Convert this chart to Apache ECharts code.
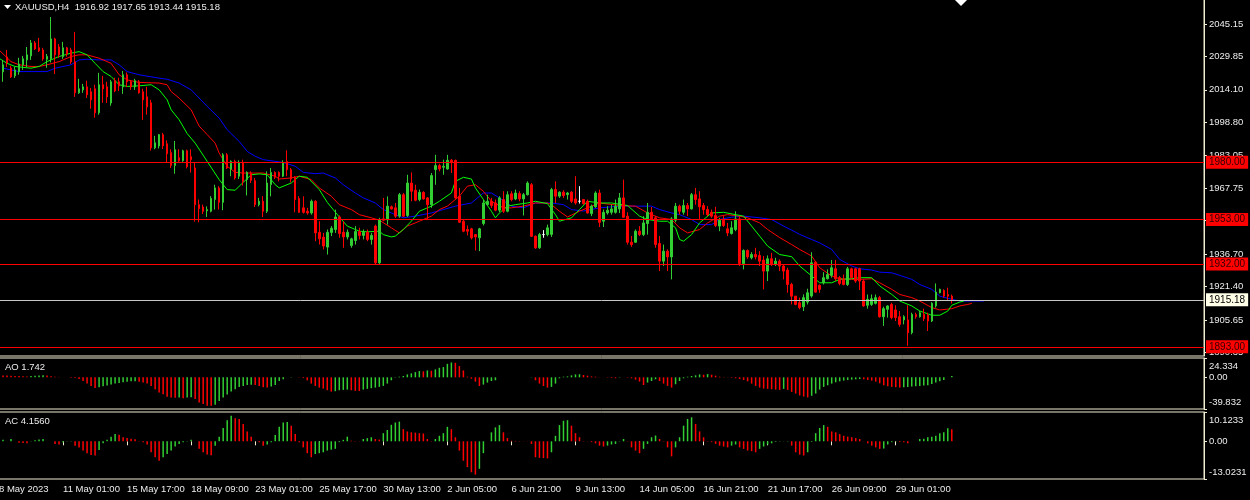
<!DOCTYPE html>
<html>
<head>
<meta charset="utf-8">
<script src="https://cdn.jsdelivr.net/npm/echarts@6/dist/echarts.min.js"></script>
<style>
  html, body { margin: 0; padding: 0; background: #000; }
  #chart { width: 1250px; height: 500px; }
</style>
</head>
<body>
<div id="chart"></div>
<script>
// XAUUSD H4, 8 May - 30 Jun 2023
const timeLabels = ['8 May 2023', '11 May 01:00', '15 May 17:00', '18 May 09:00', '23 May 01:00', '25 May 17:00',
  '30 May 13:00', '2 Jun 05:00', '6 Jun 21:00', '9 Jun 13:00', '14 Jun 05:00', '16 Jun 21:00',
  '21 Jun 17:00', '26 Jun 09:00', '29 Jun 01:00'];
const slotCount = 302; // bar slots across the visible window

const opens = [
  2021.2, 2022.6, 2029.6, 2024.4, 2020.7, 2022.6, 2025.9, 2028.2, 2030.1, 2036.2,
  2033.9, 2032.9, 2028.5, 2028.7, 2038.1, 2034.3, 2029.7, 2033.9, 2032.9, 2027.3,
  2012.7, 2014.1, 2015.5, 2013.2, 2014.6, 2003.3, 2016.5, 2015.5, 2007.9, 2018.4,
  2017.9, 2015.5, 2021.2, 2017.9, 2015.5, 2017.9, 2013.2, 2010.8, 2008.0, 1986.8,
  1987.7, 1992.9, 1988.7, 1984.5, 1978.5, 1982.1, 1980.7, 1985.4, 1982.6, 1977.3,
  1960.0, 1958.9, 1957.1, 1956.9, 1962.4, 1967.9, 1961.1, 1983.5, 1976.8, 1980.4,
  1973.4, 1979.9, 1971.8, 1974.9, 1971.3, 1960.0, 1961.6, 1956.9, 1969.5, 1975.2,
  1975.2, 1973.4, 1980.3, 1976.5, 1972.9, 1962.9, 1958.5, 1956.9, 1956.1, 1961.6,
  1947.0, 1944.7, 1940.0, 1946.9, 1948.3, 1954.2, 1947.0, 1944.8, 1940.8, 1943.1,
  1947.4, 1945.5, 1947.0, 1943.6, 1949.9, 1932.6, 1953.3, 1952.9, 1959.0, 1958.5,
  1954.6, 1964.7, 1954.9, 1970.2, 1966.8, 1962.4, 1965.8, 1963.2, 1960.0, 1976.5,
  1978.4, 1977.6, 1976.8, 1980.9, 1980.9, 1964.0, 1952.2, 1948.3, 1948.6, 1945.9,
  1944.4, 1951.1, 1960.0, 1961.6, 1960.8, 1957.4, 1962.4, 1956.9, 1965.1, 1962.7,
  1965.2, 1962.7, 1964.7, 1969.4, 1945.1, 1939.7, 1945.9, 1945.9, 1946.0, 1967.1,
  1964.0, 1965.9, 1964.7, 1965.9, 1962.7, 1961.6, 1962.4, 1961.6, 1955.8, 1959.0,
  1965.5, 1952.2, 1956.1, 1956.4, 1956.4, 1958.0, 1963.2, 1954.6, 1942.3, 1942.3,
  1947.5, 1945.9, 1951.1, 1956.4, 1953.8, 1941.7, 1933.4, 1938.1, 1935.4, 1952.7,
  1959.3, 1956.4, 1959.6, 1958.0, 1964.7, 1962.7, 1959.6, 1957.7, 1956.4, 1954.9,
  1949.9, 1952.7, 1948.6, 1946.4, 1948.3, 1953.3, 1932.2, 1938.4, 1935.0, 1936.5,
  1936.1, 1933.9, 1928.7, 1934.5, 1931.8, 1933.4, 1931.1, 1929.2, 1922.4, 1916.9,
  1913.8, 1911.9, 1914.1, 1917.0, 1932.9, 1922.0, 1923.2, 1925.1, 1926.7, 1929.8,
  1925.6, 1924.8, 1922.4, 1929.8, 1929.8, 1929.8, 1924.0, 1912.6, 1913.0, 1913.5,
  1916.2, 1907.2, 1910.7, 1913.0, 1910.4, 1907.2, 1905.7, 1905.7, 1899.7, 1908.3,
  1907.2, 1908.3, 1907.9, 1905.2, 1912.3, 1918.5, 1919.6, 1917.7, 1916.92
];
const highs = [
  2026.3, 2028.2, 2032.9, 2025.4, 2024.9, 2029.2, 2030.1, 2034.3, 2037.6, 2037.1,
  2038.6, 2033.9, 2031.0, 2048.4, 2038.6, 2035.7, 2036.7, 2034.3, 2033.9, 2041.4,
  2019.3, 2016.9, 2018.4, 2015.0, 2016.5, 2022.1, 2020.7, 2017.9, 2018.8, 2019.8,
  2019.8, 2023.0, 2022.3, 2018.7, 2019.3, 2018.7, 2014.6, 2015.5, 2009.4, 1992.4,
  1993.3, 1993.8, 1990.3, 1986.1, 1990.0, 1986.1, 1985.9, 1985.9, 1986.1, 1979.6,
  1962.4, 1960.0, 1959.2, 1964.0, 1969.4, 1968.7, 1984.3, 1984.3, 1980.9, 1981.2,
  1980.9, 1981.2, 1975.7, 1975.7, 1972.6, 1963.2, 1964.0, 1975.7, 1977.3, 1975.7,
  1975.7, 1980.9, 1985.6, 1977.3, 1973.4, 1964.0, 1963.9, 1958.5, 1962.4, 1962.1,
  1952.2, 1946.7, 1948.3, 1949.9, 1957.7, 1954.9, 1952.2, 1948.3, 1944.4, 1949.9,
  1949.1, 1948.3, 1948.3, 1946.7, 1950.6, 1953.8, 1963.2, 1963.9, 1959.6, 1960.8,
  1965.5, 1965.5, 1974.1, 1975.2, 1969.4, 1967.1, 1966.3, 1963.6, 1974.9, 1983.5,
  1979.3, 1981.2, 1983.5, 1981.5, 1981.2, 1967.9, 1953.0, 1950.2, 1949.1, 1946.2,
  1949.1, 1962.4, 1964.7, 1963.2, 1962.4, 1964.0, 1966.3, 1966.3, 1966.3, 1967.1,
  1966.3, 1965.5, 1971.0, 1970.2, 1945.5, 1946.7, 1948.0, 1950.6, 1967.9, 1971.0,
  1966.3, 1966.8, 1966.0, 1966.3, 1973.4, 1968.7, 1962.7, 1962.4, 1960.0, 1966.3,
  1967.1, 1957.7, 1959.3, 1960.0, 1962.4, 1965.5, 1971.8, 1956.4, 1945.2, 1948.3,
  1949.9, 1954.6, 1960.8, 1958.9, 1954.6, 1945.2, 1941.2, 1938.9, 1954.1, 1960.8,
  1960.0, 1962.4, 1960.8, 1965.5, 1967.9, 1966.3, 1960.8, 1959.3, 1957.7, 1959.0,
  1953.8, 1954.6, 1951.4, 1952.2, 1956.9, 1954.6, 1938.9, 1938.9, 1937.6, 1939.7,
  1938.1, 1935.8, 1936.1, 1937.3, 1935.0, 1934.2, 1931.8, 1930.3, 1923.2, 1917.0,
  1916.2, 1917.7, 1920.4, 1937.6, 1933.4, 1922.4, 1928.2, 1929.5, 1933.9, 1933.9,
  1926.4, 1927.1, 1930.7, 1930.3, 1930.3, 1930.3, 1924.8, 1917.7, 1917.7, 1917.7,
  1917.0, 1911.9, 1912.6, 1913.8, 1912.6, 1909.9, 1907.9, 1912.6, 1909.1, 1909.1,
  1909.9, 1911.0, 1909.1, 1914.1, 1922.9, 1920.4, 1920.1, 1920.9, 1917.65
];
const lows = [
  2019.3, 2017.9, 2024.9, 2019.7, 2019.7, 2021.2, 2023.5, 2024.9, 2028.2, 2032.9,
  2031.9, 2027.8, 2024.5, 2027.0, 2021.6, 2029.2, 2028.7, 2029.7, 2026.3, 2010.8,
  2012.2, 2012.7, 2010.3, 2005.2, 2001.0, 2002.4, 2008.0, 2007.9, 2006.6, 2013.0,
  2013.5, 2012.2, 2015.4, 2014.1, 2014.1, 2012.3, 2000.0, 2002.4, 1985.5, 1986.1,
  1986.5, 1986.2, 1979.7, 1977.3, 1974.6, 1980.2, 1980.2, 1977.1, 1975.1, 1952.0,
  1951.7, 1955.6, 1954.2, 1956.4, 1957.7, 1957.7, 1957.4, 1976.8, 1973.4, 1971.8,
  1972.1, 1969.0, 1964.3, 1970.2, 1958.9, 1959.2, 1954.2, 1956.1, 1963.9, 1972.1,
  1971.0, 1973.0, 1973.4, 1970.5, 1956.4, 1956.1, 1955.8, 1955.3, 1955.3, 1942.8,
  1941.2, 1938.9, 1936.5, 1945.2, 1946.7, 1944.4, 1939.7, 1943.6, 1939.7, 1941.2,
  1943.6, 1943.6, 1942.8, 1941.2, 1932.0, 1932.0, 1952.2, 1950.6, 1957.7, 1953.8,
  1953.8, 1954.2, 1954.2, 1961.6, 1961.6, 1961.6, 1962.4, 1953.0, 1958.5, 1969.4,
  1975.7, 1974.1, 1976.5, 1974.9, 1962.8, 1951.4, 1947.0, 1945.5, 1943.6, 1938.4,
  1938.1, 1950.2, 1959.6, 1958.5, 1956.9, 1956.4, 1956.1, 1956.4, 1961.6, 1962.1,
  1961.6, 1954.9, 1964.3, 1944.8, 1939.2, 1939.2, 1944.4, 1945.1, 1944.8, 1960.8,
  1963.2, 1963.2, 1962.4, 1960.8, 1960.0, 1960.5, 1960.0, 1955.8, 1954.6, 1958.5,
  1949.5, 1949.5, 1955.3, 1955.3, 1955.8, 1956.1, 1953.8, 1941.2, 1940.1, 1942.0,
  1945.2, 1945.2, 1945.9, 1953.0, 1939.7, 1928.7, 1931.1, 1928.7, 1924.8, 1951.7,
  1955.3, 1955.3, 1954.6, 1957.7, 1960.0, 1953.3, 1955.3, 1954.6, 1953.8, 1949.5,
  1947.5, 1949.5, 1945.2, 1945.9, 1947.5, 1931.1, 1929.5, 1934.5, 1934.2, 1934.2,
  1931.1, 1920.1, 1924.0, 1931.1, 1931.1, 1928.7, 1924.8, 1918.5, 1913.0, 1912.6,
  1910.7, 1909.9, 1913.0, 1916.2, 1918.5, 1918.5, 1922.4, 1924.8, 1925.6, 1924.0,
  1922.0, 1922.0, 1921.7, 1925.1, 1923.2, 1919.8, 1911.9, 1911.0, 1912.3, 1913.0,
  1906.8, 1902.9, 1906.8, 1906.0, 1905.2, 1902.5, 1903.6, 1893.5, 1898.9, 1906.3,
  1906.8, 1905.2, 1900.5, 1904.7, 1911.5, 1918.2, 1916.2, 1914.6, 1913.44
];
const closes = [
  2024.9, 2025.9, 2026.8, 2020.2, 2023.5, 2026.3, 2028.7, 2030.6, 2036.2, 2033.4,
  2032.5, 2028.7, 2029.9, 2038.1, 2030.6, 2030.6, 2033.9, 2031.0, 2027.3, 2012.7,
  2014.6, 2015.5, 2011.8, 2009.4, 2003.3, 2016.5, 2014.6, 2010.8, 2017.9, 2013.6,
  2016.0, 2021.2, 2017.9, 2015.5, 2018.4, 2012.7, 2009.4, 2006.1, 1986.8, 1989.2,
  1993.0, 1987.8, 1984.0, 1978.5, 1985.9, 1980.7, 1985.4, 1977.9, 1981.2, 1960.0,
  1958.2, 1956.9, 1957.7, 1962.9, 1967.9, 1961.1, 1983.5, 1977.3, 1980.4, 1972.6,
  1979.9, 1971.0, 1975.2, 1971.5, 1960.0, 1961.6, 1956.9, 1970.2, 1975.2, 1972.9,
  1973.4, 1979.9, 1976.5, 1972.1, 1962.4, 1956.4, 1956.4, 1956.1, 1961.6, 1946.7,
  1943.9, 1940.5, 1947.0, 1948.9, 1954.2, 1946.4, 1944.8, 1947.0, 1943.9, 1947.4,
  1945.5, 1947.0, 1943.6, 1945.5, 1932.6, 1953.0, 1952.7, 1959.3, 1958.0, 1954.6,
  1964.7, 1954.6, 1970.2, 1966.3, 1962.1, 1965.8, 1962.7, 1960.0, 1973.7, 1978.4,
  1976.8, 1978.1, 1980.9, 1980.0, 1963.2, 1951.7, 1947.5, 1947.5, 1944.4, 1944.8,
  1948.6, 1960.8, 1961.6, 1959.6, 1957.4, 1963.2, 1956.9, 1964.7, 1962.4, 1965.5,
  1962.7, 1964.7, 1970.2, 1945.1, 1939.7, 1945.9, 1945.9, 1949.1, 1967.1, 1964.0,
  1965.9, 1964.3, 1965.5, 1961.6, 1960.8, 1961.6, 1960.5, 1956.1, 1959.3, 1965.5,
  1951.7, 1956.4, 1957.4, 1958.0, 1959.3, 1963.2, 1954.1, 1942.3, 1941.2, 1947.5,
  1945.9, 1951.4, 1956.4, 1953.3, 1941.2, 1933.4, 1938.1, 1935.4, 1953.3, 1959.3,
  1956.9, 1959.6, 1958.0, 1964.7, 1962.4, 1959.0, 1957.7, 1955.3, 1954.6, 1950.2,
  1952.7, 1950.2, 1946.7, 1949.1, 1953.3, 1932.3, 1938.4, 1935.4, 1936.5, 1935.4,
  1933.4, 1928.7, 1934.5, 1931.8, 1933.4, 1931.1, 1928.7, 1922.4, 1916.9, 1913.0,
  1911.5, 1916.2, 1918.5, 1932.6, 1918.8, 1920.1, 1925.6, 1927.1, 1930.3, 1925.1,
  1922.9, 1922.4, 1929.8, 1925.6, 1924.0, 1924.0, 1912.3, 1915.4, 1915.7, 1916.2,
  1907.2, 1911.0, 1912.3, 1906.8, 1906.8, 1903.6, 1907.2, 1899.7, 1908.3, 1907.2,
  1909.1, 1906.3, 1905.2, 1913.5, 1918.8, 1920.1, 1916.9, 1916.9, 1915.18
];

// Alligator lines: [bar, price]
const jawLine = [[1,2024.3],[5,2022.7],[12,2022.7],[14,2024.3],[18,2025.9],[20,2028.2],[22,2028.5],[25,2028.2],[28,2028.2],[30,2025.9],
  [32,2022.7],[35,2021.2],[40,2019.6],[42,2019.1],[45,2017.3],[48,2014.1],[52,2006.3],[55,2000.8],[57,1995.3],[60,1989.8],
  [62,1985.1],[64,1982.8],[66,1981.2],[69,1980.4],[71,1979.9],[74,1978.1],[76,1975.2],[79,1974.6],[81,1974.9],[84,1972.6],
  [86,1969.4],[89,1965.5],[91,1963.2],[94,1960.8],[96,1957.7],[99,1955.3],[101,1953.8],[104,1954.6],[108,1956.1],[111,1957.7],
  [114,1959.3],[118,1960.8],[121,1965.5],[123,1965.5],[125,1963.2],[128,1959.3],[131,1958.5],[134,1960.8],[138,1960.8],[141,1960.0],
  [143,1957.7],[146,1957.0],[150,1958.5],[155,1959.3],[163,1959.3],[165,1957.7],[168,1956.1],[170,1955.3],[173,1953.0],[175,1950.6],
  [178,1950.6],[180,1953.0],[183,1954.1],[186,1954.6],[190,1953.8],[193,1953.0],[196,1949.9],[198,1948.0],[200,1946.0],[203,1943.6],
  [205,1942.0],[208,1938.9],[210,1934.2],[213,1931.1],[215,1929.8],[218,1929.2],[220,1928.2],[223,1927.9],[225,1926.7],[228,1924.8],
  [230,1922.4],[233,1920.1],[235,1916.9],[238,1915.4],[240,1914.6],[243,1914.6],[246,1914.6]];
const teethLine = [[0,2032.9],[3,2027.4],[5,2025.9],[8,2025.1],[10,2025.1],[12,2025.9],[15,2027.4],[18,2029.8],[20,2030.6],[22,2030.6],
  [25,2029.0],[28,2026.6],[30,2021.2],[32,2018.8],[35,2017.6],[40,2017.3],[42,2016.5],[43,2013.3],[45,2010.2],[48,2004.7],
  [50,1997.0],[52,1993.0],[54,1989.0],[55,1984.3],[57,1978.1],[59,1975.2],[61,1974.9],[64,1974.9],[66,1974.9],[69,1973.4],
  [70,1972.1],[73,1972.6],[75,1973.4],[78,1971.8],[80,1967.9],[83,1964.0],[85,1960.0],[88,1957.7],[90,1955.3],[93,1953.8],
  [95,1952.7],[98,1949.1],[100,1946.7],[102,1949.9],[105,1952.2],[108,1954.6],[110,1957.7],[112,1959.3],[115,1964.0],[117,1968.7],
  [119,1969.4],[121,1966.3],[123,1961.6],[126,1958.5],[128,1958.5],[131,1959.3],[134,1960.8],[137,1960.8],[138,1960.0],[140,1956.9],
  [142,1954.2],[145,1956.9],[147,1958.5],[150,1960.8],[155,1959.6],[159,1959.3],[162,1956.1],[165,1953.8],[168,1953.0],[170,1949.1],
  [172,1946.7],[175,1948.3],[177,1951.4],[180,1954.6],[182,1955.3],[185,1954.6],[187,1953.8],[190,1951.4],[192,1948.3],[195,1944.5],
  [198,1941.2],[200,1938.9],[203,1935.8],[205,1930.3],[208,1926.4],[210,1925.1],[213,1924.8],[215,1924.8],[218,1925.1],[220,1923.2],
  [223,1920.1],[225,1917.7],[228,1916.2],[230,1914.6],[233,1911.5],[235,1910.4],[238,1911.0],[240,1912.3],[242,1913.0],[243,1913.5]];
const lipsLine = [[0,2029.0],[2,2026.6],[4,2025.1],[8,2024.3],[10,2025.1],[12,2027.4],[15,2029.8],[18,2031.4],[20,2032.1],[22,2030.6],
  [24,2026.6],[26,2022.7],[28,2020.4],[30,2016.5],[32,2015.7],[35,2016.0],[38,2016.5],[40,2014.1],[42,2009.4],[43,2004.7],
  [45,2000.0],[47,1993.5],[49,1989.0],[52,1980.4],[55,1971.8],[57,1967.1],[59,1966.8],[60,1968.7],[63,1974.1],[65,1974.5],
  [67,1974.1],[69,1969.4],[70,1967.9],[73,1970.2],[75,1973.4],[77,1972.9],[80,1967.1],[82,1961.1],[85,1954.2],[87,1949.9],
  [90,1947.5],[92,1947.2],[95,1947.5],[96,1945.9],[98,1944.8],[99,1945.2],[101,1948.3],[103,1952.2],[105,1956.9],[108,1959.3],
  [110,1961.6],[113,1965.5],[114,1971.0],[116,1972.9],[118,1972.1],[119,1967.9],[121,1962.4],[123,1956.9],[124,1953.8],[125,1956.1],
  [127,1959.3],[129,1960.0],[132,1960.8],[134,1961.6],[137,1960.5],[139,1955.3],[140,1952.2],[143,1953.8],[145,1957.7],[147,1961.6],
  [150,1960.8],[153,1960.8],[157,1959.6],[160,1954.6],[162,1953.0],[165,1952.2],[167,1952.2],[169,1949.1],[170,1943.6],[171,1942.8],
  [173,1945.9],[175,1951.4],[178,1956.1],[181,1956.4],[184,1955.3],[186,1954.6],[188,1949.9],[190,1945.2],[192,1940.5],[195,1936.5],
  [198,1935.5],[200,1931.1],[203,1926.4],[205,1923.2],[208,1923.2],[210,1924.8],[213,1925.1],[215,1925.6],[218,1925.6],[220,1921.7],
  [223,1917.7],[225,1914.6],[228,1912.3],[230,1909.9],[233,1907.9],[235,1907.9],[237,1909.9],[238,1912.6],[240,1914.1],[241,1914.6]];

// Awesome Oscillator, one value per bar (null = nothing drawn)
const aoValues = [
  2.6, 2.4, 2.2, 2.0, 1.8, 1.6, 1.4, 1.2, 1.6, 2.0,
  2.3, 2.6, 2.2, 1.5, 0.9, 0.4, null, null, -0.5, -0.9,
  -2.0, -4.6, -7.9, -10.8, -13.3, -12.5, -11.2, -10.4, -9.1, -7.9,
  -7.1, -6.2, -5.4, -5.0, -4.8, -5.4, -6.6, -7.9, -10.8, -14.9,
  -19.1, -21.2, -24.5, -25.3, -25.8, -25.3, -26.2, -25.5, -24.9, -27.4,
  -31.6, -33.6, -35.7, -35.9, -34.5, -29.9, -25.3, -21.6, -17.9, -14.9,
  -12.0, -10.8, -9.6, -9.3, -9.6, -10.8, -12.5, -12.9, -11.6, -9.6,
  -4.6, -2.5, null, 0.4, 0.1, -0.3, -1.0, -3.7, -7.9, -10.8,
  -12.9, -14.1, -16.2, -17.9, -17.4, -16.2, -15.8, -15.4, -16.2, -17.0,
  -17.2, -15.4, -14.5, -13.7, -12.9, -12.0, -10.8, -7.9, -3.7, -0.4,
  0.8, 1.7, 3.7, 5.0, 6.6, 7.9, 7.5, 8.7, 8.3, 10.0,
  12.0, 12.9, 17.0, 18.7, 18.3, 14.1, 8.7, 0.8, -1.7, -5.4,
  -10.8, -9.1, -6.6, -4.6, -3.7, null, null, null, null, null,
  null, null, null, -0.3, -3.7, -7.9, -10.8, -12.9, -12.0, -7.9,
  -1.2, 0.8, 1.2, 2.5, 3.7, 3.9, 2.9, 2.1, 1.2, 0.8,
  0.2, null, -0.4, -0.8, -1.2, -0.4, null, -0.5, -1.2, -2.9,
  -5.4, -9.6, -6.6, -4.6, -2.5, -4.6, -7.9, -10.8, -12.9, -8.7,
  -4.6, -1.2, 0.8, 1.7, 2.5, 3.7, 3.3, 4.1, 3.3, 2.1,
  0.8, 0.3, -0.2, -0.6, -1.2, -2.1, -3.3, -5.0, -7.9, -10.8,
  -12.9, -14.1, -14.5, -14.9, -15.4, -15.8, -14.5, -15.8, -18.3, -20.4,
  -22.8, -24.1, -25.3, -23.2, -20.4, -15.4, -12.0, -10.0, -7.9, -6.2,
  -5.0, -4.1, -3.3, -2.9, -2.5, -2.1, -2.5, -3.3, -4.1, -5.4,
  -7.5, -10.0, -11.2, -12.0, -12.5, -12.9, -12.5, -12.0, -11.6, -11.2,
  -10.8, -10.4, -10.0, -8.3, -6.6, -5.0, -3.3, null, 1.742
];
// Accelerator Oscillator
const acValues = [
  -7.6, 0.5, null, 0.8, null, -0.5, -0.6, -0.7, -0.1, 0.4,
  0.6, 0.8, null, null, -0.9, -1.1, -0.4, -0.1, 0.1, -1.5,
  -2.1, -3.2, -4.1, -4.7, -4.9, -3.0, -0.7, 0.5, 1.6, 2.5,
  2.3, 1.4, 1.1, 0.9, 0.7, 0.1, -0.3, -1.1, -3.8, -5.5,
  -6.7, -5.5, -4.4, -3.2, -1.8, -0.9, -0.3, 0.1, 0.5, null,
  -2.6, -3.8, -4.6, -4.8, -1.5, 1.6, 4.6, 7.3, 8.8, 8.0,
  7.7, 6.0, 3.4, 1.6, null, -0.3, -1.5, -1.1, -0.3, 2.2,
  5.0, 6.5, 6.7, 5.4, 2.5, -0.3, -2.1, -4.1, -5.5, -4.4,
  -4.1, -3.8, -3.2, -2.9, -2.6, -0.3, 0.5, 1.6, 0.2, 0.1,
  0.05, 0.8, 1.1, 1.4, 0.8, 0.6, 2.8, 3.9, 5.7, 6.5,
  6.8, 4.2, 3.4, 3.1, 3.0, 2.8, 2.7, 0.8, 0.1, 0.8,
  1.9, 2.8, 5.0, 4.2, 1.4, -3.2, -6.7, -8.9, -10.7, -11.5,
  -9.5, -4.1, null, 3.1, 4.8, 5.6, 3.1, 1.1, 0.2, 0.15,
  0.1, 0.05, -0.05, -0.9, -5.5, -5.7, -5.8, -5.9, -3.8, 1.9,
  5.6, 7.1, 7.3, 5.4, 2.8, 1.4, 0.1, -0.05, -0.3, -0.7,
  -1.5, -1.8, -1.5, -1.1, -0.9, -0.1, 0.8, -0.1, -2.1, -3.2,
  -4.1, -2.6, -0.9, 1.4, 2.0, 0.8, -0.1, -2.1, -5.2, -2.1,
  1.4, 5.4, 7.7, 8.3, 6.0, 3.4, 1.4, 0.1, -0.3, -0.9,
  -1.5, -1.8, -2.1, -1.5, -1.1, -2.1, -2.6, -3.2, -3.4, -3.8,
  -2.6, -1.8, -1.1, -0.7, -0.2, -0.1, 0.05, 0.1, -1.5, -3.8,
  -4.6, -4.9, -3.8, -0.2, 2.8, 4.6, 5.6, 5.0, 3.4, 3.1,
  2.5, 1.9, 1.6, 1.4, 1.1, 0.8, 0.05, -0.7, -1.5, -2.1,
  -2.6, -2.5, -1.1, -0.3, -0.1, -0.2, -0.3, -0.7, null, null,
  0.8, 0.9, 1.4, 1.6, 1.9, 2.8, 3.1, 4.5, 4.156
];

const levelLines = [1980.00, 1953.00, 1932.00, 1893.00];
const lastPrice = 1915.18;
const priceTicks = [2045.15, 2029.85, 2014.10, 1998.80, 1983.05, 1967.75, 1952.45, 1936.70, 1921.40, 1905.65, 1890.35];
const aoTicks = [24.334, 0, -39.832];
const aoTickText = ['24.334', '0.00', '-39.832'];
const acTicks = [10.1233, 0, -13.0231];
const acTickText = ['10.1233', '0.00', '-13.0231'];

const fg = '#f0ecd2';
const txt = '#ececec';
const upColor = '#32cd32';
const downColor = '#ff0000';
const font = 'Liberation Sans';
const slots = Array.from({ length: slotCount }, (_, i) => String(i));

function histColor(values) {
  return p => {
    const i = p.dataIndex;
    let prev = null;
    for (let j = i - 1; j >= 0; j--) {
      if (values[j] != null) { prev = values[j]; break; }
    }
    return prev === null || values[i] > prev ? upColor : downColor;
  };
}

function subAxisLabel(ticks, texts) {
  return {
    customValues: ticks,
    color: txt, fontFamily: font, fontSize: 9.5, margin: 5,
    formatter: v => {
      const i = ticks.indexOf(v);
      if (i === 0) return '{t|' + texts[0] + '}';
      if (i === ticks.length - 1) return '{b|' + texts[i] + '}';
      return texts[i];
    },
    rich: {
      t: { padding: [16, 0, 0, 0], color: txt, fontFamily: font, fontSize: 9.5 },
      b: { padding: [0, 0, 14, 0], color: txt, fontFamily: font, fontSize: 9.5 }
    }
  };
}

const chart = echarts.init(document.getElementById('chart'));

const gridBase = { left: -1, right: 46, show: true, borderColor: fg, borderWidth: 1, outerBoundsMode: 'none', containLabel: false };
const hiddenX = idx => ({
  type: 'category', gridIndex: idx, data: slots, boundaryGap: false,
  axisLine: { show: false }, axisTick: { show: false }, axisLabel: { show: false }, splitLine: { show: false }
});
const everySixteen = idx => idx % 16 === 0 && idx / 16 < timeLabels.length;

const levelData = levelLines.map(v => ({
  yAxis: v,
  lineStyle: { color: '#ff0000', width: 1.2, type: 'solid' },
  label: { backgroundColor: '#ff0000', color: '#300000' }
}));
levelData.push({
  yAxis: lastPrice,
  lineStyle: { color: '#c8c8c8', width: 1, type: 'solid' },
  label: { backgroundColor: '#ffffe8', color: '#000' }
});

chart.setOption({
  backgroundColor: '#000',
  animation: false,
  textStyle: { fontFamily: font },
  grid: [
    Object.assign({ top: -1, height: 357 }, gridBase),
    Object.assign({ top: 358, height: 51 }, gridBase),
    Object.assign({ top: 412, height: 67 }, gridBase)
  ],
  xAxis: [
    hiddenX(0),
    hiddenX(1),
    {
      type: 'category', gridIndex: 2, data: slots, boundaryGap: false,
      axisLine: { show: false },
      axisTick: { show: true, interval: everySixteen, length: 4, lineStyle: { color: fg } },
      axisLabel: {
        show: true, interval: everySixteen, align: 'left', margin: 5,
        color: txt, fontFamily: font, fontSize: 9.5,
        formatter: (v, i) => timeLabels[i / 16] || ''
      },
      splitLine: { show: false }
    }
  ],
  yAxis: [
    {
      type: 'value', gridIndex: 0, position: 'right', min: 1888.7, max: 2056.9,
      axisLine: { show: true, lineStyle: { color: fg } },
      axisTick: { show: true, customValues: priceTicks, length: 3, lineStyle: { color: fg } },
      axisLabel: {
        customValues: priceTicks, color: txt, fontFamily: font, fontSize: 9.5, margin: 5,
        formatter: v => v.toFixed(2)
      },
      splitLine: { show: false }
    },
    {
      type: 'value', gridIndex: 1, position: 'right', min: -39.832, max: 24.334,
      axisLine: { show: true, lineStyle: { color: fg } },
      axisTick: { show: true, customValues: aoTicks, length: 3, lineStyle: { color: fg } },
      axisLabel: subAxisLabel(aoTicks, aoTickText),
      splitLine: { show: false }
    },
    {
      type: 'value', gridIndex: 2, position: 'right', min: -13.0231, max: 10.1233,
      axisLine: { show: true, lineStyle: { color: fg } },
      axisTick: { show: true, customValues: acTicks, length: 3, lineStyle: { color: fg } },
      axisLabel: subAxisLabel(acTicks, acTickText),
      splitLine: { show: false }
    }
  ],
  series: [
    {
      name: 'XAUUSD', type: 'candlestick', xAxisIndex: 0, yAxisIndex: 0,
      data: opens.map((o, i) => [o, closes[i], lows[i], highs[i]]),
      barWidth: 2,
      itemStyle: {
        color: upColor, color0: downColor, borderColor: upColor, borderColor0: downColor,
        borderColorDoji: '#ffffff', borderWidth: 1
      },
      markLine: {
        silent: true, symbol: 'none', animation: false,
        label: {
          show: true, position: 'end', distance: 2, padding: [2, 3, 1, 3],
          fontFamily: font, fontSize: 10, formatter: p => p.value.toFixed(2)
        },
        data: levelData
      },
      z: 3
    },
    {
      name: 'Jaw', type: 'line', xAxisIndex: 0, yAxisIndex: 0, data: jawLine,
      showSymbol: false, lineStyle: { color: '#0000ff', width: 1 }, z: 2
    },
    {
      name: 'Teeth', type: 'line', xAxisIndex: 0, yAxisIndex: 0, data: teethLine,
      showSymbol: false, lineStyle: { color: '#ff0000', width: 1 }, z: 2
    },
    {
      name: 'Lips', type: 'line', xAxisIndex: 0, yAxisIndex: 0, data: lipsLine,
      showSymbol: false, lineStyle: { color: '#00ff00', width: 1 }, z: 2
    },
    {
      name: 'AO', type: 'bar', xAxisIndex: 1, yAxisIndex: 1, data: aoValues,
      barWidth: 1.5, itemStyle: { color: histColor(aoValues) }
    },
    {
      name: 'AC', type: 'bar', xAxisIndex: 2, yAxisIndex: 2, data: acValues,
      barWidth: 1.5, itemStyle: { color: histColor(acValues) }
    }
  ],
  graphic: [
    { type: 'polygon', shape: { points: [[4, 5], [11, 5], [7.5, 9]] }, style: { fill: '#ffffff' } },
    { type: 'text', left: 15, top: 2, style: { text: 'XAUUSD,H4  1916.92 1917.65 1913.44 1915.18', fill: txt, font: '9.5px "Liberation Sans"' } },
    { type: 'polygon', shape: { points: [[955, 0], [967, 0], [961, 6]] }, style: { fill: '#ffffff' } },
    { type: 'text', left: 5, top: 362, style: { text: 'AO 1.742', fill: txt, font: '9.5px "Liberation Sans"' } },
    { type: 'text', left: 5, top: 416, style: { text: 'AC 4.1560', fill: txt, font: '9.5px "Liberation Sans"' } }
  ]
});
</script>
</body>
</html>
